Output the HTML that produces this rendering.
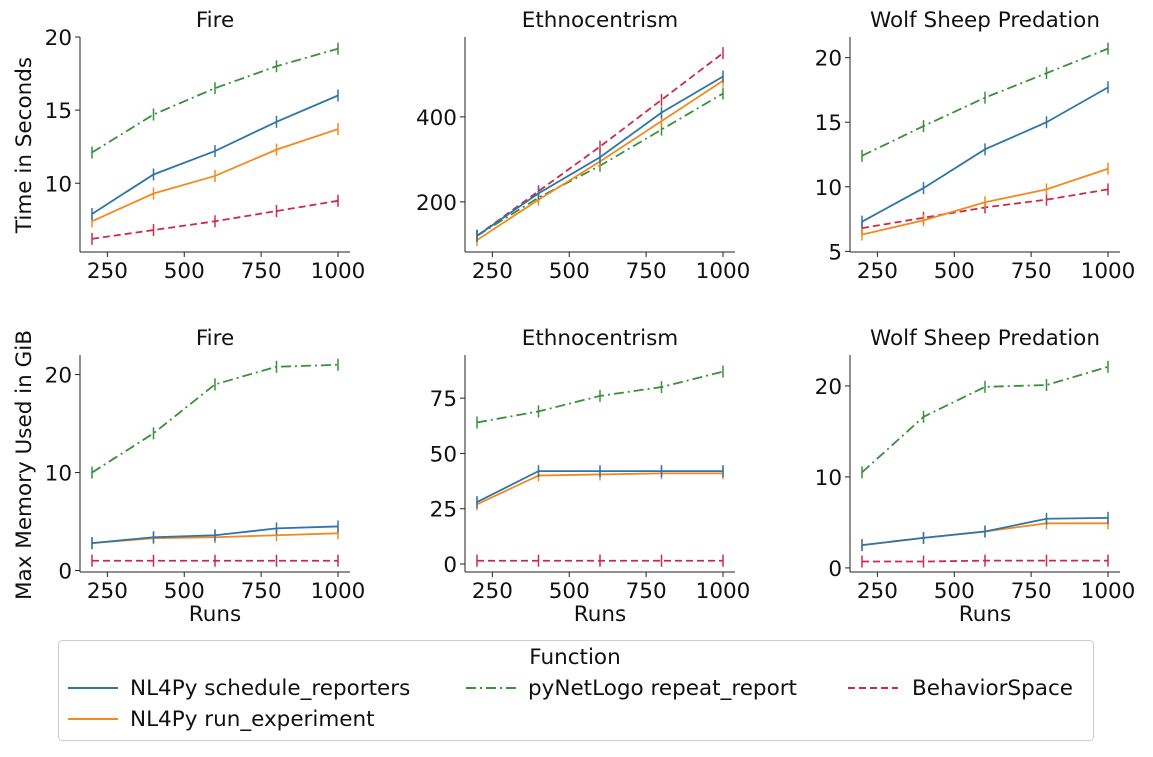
<!DOCTYPE html>
<html><head><meta charset="utf-8"><style>
body{margin:0;background:#fff;font-family:"Liberation Sans","DejaVu Sans",sans-serif;}
svg text{font-family:"DejaVu Sans","Liberation Sans",sans-serif;fill:#111;}
</style></head><body>
<svg id="chart" width="1153" height="752" viewBox="0 0 1153 752" xmlns="http://www.w3.org/2000/svg">
<text x="0" y="0" font-size="21.5" text-anchor="middle" transform="translate(31,145) rotate(-90)">Time in Seconds</text>
<text x="0" y="0" font-size="21.5" text-anchor="middle" transform="translate(31,465) rotate(-90)">Max Memory Used in GiB</text>
<g>
<rect x="58.5" y="640.5" width="1035" height="100" rx="4" fill="#fff" stroke="#ccc"/>
<text x="575" y="664" font-size="21.5" text-anchor="middle">Function</text>
<line x1="68" y1="688" x2="118" y2="688" stroke="#2e75a8" stroke-width="2"/>
<text x="130" y="695" font-size="21.5">NL4Py schedule_reporters</text>
<line x1="466" y1="688" x2="516" y2="688" stroke="#3b8f3b" stroke-width="2" stroke-dasharray="10,4,2,4"/>
<text x="528" y="695" font-size="21.5">pyNetLogo repeat_report</text>
<line x1="848" y1="688" x2="898" y2="688" stroke="#cc2a4a" stroke-width="2" stroke-dasharray="7,4"/>
<text x="912" y="695" font-size="21.5">BehaviorSpace</text>
<line x1="68" y1="719" x2="118" y2="719" stroke="#f28a1e" stroke-width="2"/>
<text x="130" y="726" font-size="21.5">NL4Py run_experiment</text>
</g>
</svg>
<script>
const runs=[200,400,600,800,1000];
const xTicks=[250,500,750,1000];
const titles=["Fire","Ethnocentrism","Wolf Sheep Predation","Fire","Ethnocentrism","Wolf Sheep Predation"];
const seriesNames=["pyNetLogo repeat_report","NL4Py schedule_reporters","NL4Py run_experiment","BehaviorSpace"];
const fireTimeGreen=[12.1,14.7,16.5,18.0,19.2];
const fireTimeBlue=[7.9,10.6,12.2,14.2,16.0];
const fireTimeOrange=[7.4,9.3,10.5,12.3,13.7];
const fireTimeRed=[6.2,6.8,7.4,8.1,8.8];
const ethTimeGreen=[120,210,285,370,455];
const ethTimeBlue=[120,220,305,410,495];
const ethTimeOrange=[110,205,295,390,485];
const ethTimeRed=[120,225,330,440,550];
const wolfTimeGreen=[12.4,14.7,16.9,18.8,20.7];
const wolfTimeBlue=[7.3,9.9,12.9,15.0,17.7];
const wolfTimeOrange=[6.3,7.4,8.8,9.8,11.4];
const wolfTimeRed=[6.8,7.6,8.4,9.0,9.8];
const fireMemGreen=[10,14,19,20.8,21];
const fireMemBlue=[2.8,3.4,3.6,4.3,4.5];
const fireMemOrange=[2.8,3.3,3.4,3.6,3.8];
const fireMemRed=[1,1,1,1,1];
const ethMemGreen=[64,69,76,80,87];
const ethMemBlue=[28,42,42,42,42];
const ethMemOrange=[27,40,40.5,41,41];
const ethMemRed=[1.5,1.5,1.5,1.5,1.5];
const wolfMemGreen=[10.5,16.6,19.9,20.1,22.1];
const wolfMemBlue=[2.5,3.3,4.0,5.4,5.5];
const wolfMemOrange=[2.5,3.3,4.0,4.9,4.9];
const wolfMemRed=[0.7,0.7,0.8,0.8,0.8];
const yTicks=[[10,15,20],[200,400],[5,10,15,20],[0,10,20],[0,25,50,75],[0,10,20]];
const yRanges=[[5.3,20],[82,588],[4.95,21.6],[-0.15,22],[-3.6,94.5],[-0.45,23.4]];
const panels=[
 [fireTimeGreen,fireTimeBlue,fireTimeOrange,fireTimeRed],
 [ethTimeGreen,ethTimeBlue,ethTimeOrange,ethTimeRed],
 [wolfTimeGreen,wolfTimeBlue,wolfTimeOrange,wolfTimeRed],
 [fireMemGreen,fireMemBlue,fireMemOrange,fireMemRed],
 [ethMemGreen,ethMemBlue,ethMemOrange,ethMemRed],
 [wolfMemGreen,wolfMemBlue,wolfMemOrange,wolfMemRed]];
const colors=["#3b8f3b","#2e75a8","#f28a1e","#cc2a4a"];
const dashes=["10,4,2,4","","","7,4"];
const NS="http://www.w3.org/2000/svg";
const svg=document.getElementById('chart');
const lefts=[80,465,850], widths=[270,270,270];
const tops=[37,355], bottoms=[252,572];
function mk(t,a,p){const e=document.createElementNS(NS,t);for(const k in a)e.setAttribute(k,a[k]);(p||svg).appendChild(e);return e;}
panels.forEach((ser,pi)=>{
 const c=pi%3,r=Math.floor(pi/3);
 const L=lefts[c],R=L+widths[c],T=tops[r],B=bottoms[r];
 const x=v=>L+12+(v-200)*(R-L-24)/800;
 const [y0,y1]=yRanges[pi];
 const y=v=>B-(v-y0)*(B-T)/(y1-y0);
 const g=mk('g',{});
 
 
 const tt=mk('text',{x:(L+R)/2,y:T-10,'font-size':21.5,'text-anchor':'middle'},g);tt.textContent=titles[pi];
 
 
 mk('line',{x1:L,y1:T,x2:L,y2:B,stroke:'#222','stroke-width':1},g);
 mk('line',{x1:L,y1:B,x2:R,y2:B,stroke:'#222','stroke-width':1},g);
 xTicks.forEach(t=>{mk('line',{x1:x(t),y1:B,x2:x(t),y2:B+5,stroke:'#222'},g);
  const e=mk('text',{x:x(t),y:B+26,'font-size':21.5,'text-anchor':'middle'},g);e.textContent=t;
  
  });
 yTicks[pi].forEach(t=>{mk('line',{x1:L-5,y1:y(t),x2:L,y2:y(t),stroke:'#222'},g);
  const e=mk('text',{x:L-8,y:y(t)+8,'font-size':21.5,'text-anchor':'end'},g);e.textContent=t;
  
  });
 if(r===1){const e=mk('text',{x:(L+R)/2,y:621,'font-size':21.5,'text-anchor':'middle'},g);e.textContent='Runs';
  
  }
 [3,0,2,1].forEach(si=>{
  const vals=ser[si];
  const pts=vals.map((v,i)=>x(runs[i])+','+y(v)).join(' ');
  const pl=mk('polyline',{points:pts,fill:'none',stroke:colors[si],'stroke-width':1.8,'stroke-dasharray':dashes[si]},g);
  
  
  vals.forEach((v,i)=>{mk('line',{x1:x(runs[i]),y1:y(v)-6,x2:x(runs[i]),y2:y(v)+6,stroke:colors[si],'stroke-width':1.5},g);});
 });
});
</script>
</body></html>
